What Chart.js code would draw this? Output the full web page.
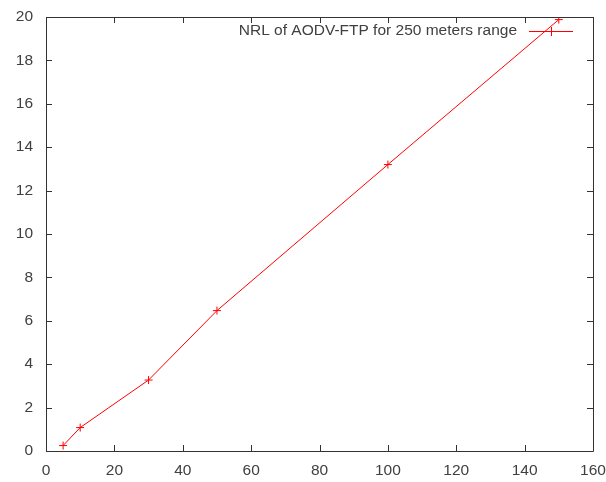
<!DOCTYPE html>
<html>
<head>
<meta charset="utf-8">
<script src="https://cdn.jsdelivr.net/npm/chart.js@4.4.1/dist/chart.umd.min.js"></script>
<style>
  html, body { margin: 0; padding: 0; background: #fff; }
  #wrap { width: 606px; height: 482px; }
</style>
</head>
<body>
<div id="wrap"><canvas id="nrlChart" width="606" height="482"></canvas></div>
<script>
// data
const seriesLabel = 'NRL of AODV-FTP for 250 meters range';
const nodes = [5, 10, 30, 50, 100, 150];
const nrl = [0.25, 1.08, 3.27, 6.47, 13.2, 19.88];
const xTicks = [0, 20, 40, 60, 80, 100, 120, 140, 160];
const yTicks = [0, 2, 4, 6, 8, 10, 12, 14, 16, 18, 20];

const FONT = "'Liberation Sans', Arial, sans-serif";
const FSIZE = 15.5;
const TEXT = '#404040';
const FRAME = '#333333';

// gnuplot-ish frame with inward ticks on all four sides + legend on the top right
const gnuFrame = {
  id: 'gnuFrame',
  afterDraw(chart) {
    const ctx = chart.ctx;
    const a = chart.chartArea;
    const xs = chart.scales.x, ys = chart.scales.y;
    const tl = 6;
    ctx.save();
    ctx.strokeStyle = FRAME;
    ctx.lineWidth = 1;
    ctx.beginPath();
    ctx.rect(a.left + 0.5, a.top + 0.5, a.right - a.left, a.bottom - a.top);
    xTicks.forEach(v => {
      const px = Math.round(xs.getPixelForValue(v)) + 0.5;
      ctx.moveTo(px, a.bottom); ctx.lineTo(px, a.bottom - tl);
      ctx.moveTo(px, a.top); ctx.lineTo(px, a.top + tl);
    });
    yTicks.forEach(v => {
      const py = Math.round(ys.getPixelForValue(v)) + 0.5;
      ctx.moveTo(a.left, py); ctx.lineTo(a.left + tl, py);
      ctx.moveTo(a.right, py); ctx.lineTo(a.right - tl, py);
    });
    ctx.stroke();

    // legend: text, then sample line with marker
    const ly = a.top + 14;
    const sx0 = a.right - 64, sx1 = a.right - 20;
    ctx.font = FSIZE + 'px ' + FONT;
    ctx.fillStyle = TEXT;
    ctx.textAlign = 'right';
    ctx.textBaseline = 'middle';
    ctx.fillText(chart.data.datasets[0].label, sx0 - 12, ly);
    ctx.strokeStyle = '#ff0000';
    ctx.beginPath();
    ctx.moveTo(sx0, ly + 0.5); ctx.lineTo(sx1, ly + 0.5);
    const mx = Math.round((sx0 + sx1) / 2) + 0.5;
    ctx.moveTo(mx, ly - 4); ctx.lineTo(mx, ly + 5);
    ctx.stroke();
    ctx.restore();
  }
};

new Chart(document.getElementById('nrlChart'), {
  type: 'line',
  data: {
    datasets: [{
      label: seriesLabel,
      data: nodes.map((x, i) => ({x: x, y: nrl[i]})),
      borderColor: '#ff0000',
      backgroundColor: '#ff0000',
      borderWidth: 1,
      pointStyle: 'cross',
      pointRadius: 4,
      pointBorderWidth: 1,
      tension: 0
    }]
  },
  options: {
    responsive: false,
    animation: false,
    layout: { padding: { left: 0, right: 13, top: 17, bottom: 0 } },
    plugins: {
      legend: { display: false },
      tooltip: { enabled: false }
    },
    scales: {
      x: {
        type: 'linear',
        min: 0, max: 160,
        afterBuildTicks: s => { s.ticks = xTicks.map(v => ({value: v})); },
        afterFit: s => { s.height = 31; s.paddingLeft = 0; s.paddingRight = 0; },
        grid: { display: false, drawTicks: false },
        border: { display: false },
        ticks: { color: TEXT, font: { family: FONT, size: FSIZE }, padding: 10, maxRotation: 0 }
      },
      y: {
        type: 'linear',
        min: 0, max: 20,
        afterBuildTicks: s => { s.ticks = yTicks.map(v => ({value: v})); },
        afterFit: s => { s.width = 46; s.paddingTop = 0; s.paddingBottom = 0; },
        grid: { display: false, drawTicks: false },
        border: { display: false },
        ticks: { color: TEXT, font: { family: FONT, size: FSIZE }, padding: 13 }
      }
    }
  },
  plugins: [gnuFrame]
});
</script>
</body>
</html>
